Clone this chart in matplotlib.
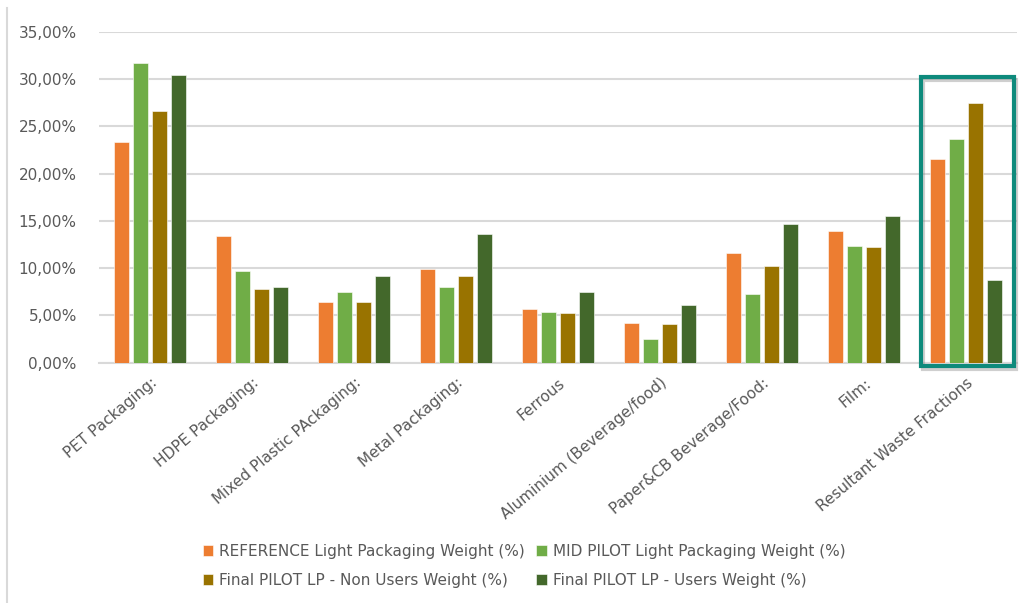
import matplotlib.pyplot as plt
import matplotlib.patheffects as pe
from matplotlib.patches import Rectangle
from matplotlib.lines import Line2D
from matplotlib.ticker import FuncFormatter
import numpy as np

plt.rcParams['font.family'] = ['DejaVu Sans']

categories = ['PET Packaging:', 'HDPE Packaging:', 'Mixed Plastic PAckaging:',
              'Metal Packaging:', 'Ferrous', 'Aluminium (Beverage/food)',
              'Paper&CB Beverage/Food:', 'Film:', 'Resultant Waste Fractions']
series_names = ['REFERENCE Light Packaging Weight (%)',
                'MID PILOT Light Packaging Weight (%)',
                'Final PILOT LP - Non Users Weight (%)',
                'Final PILOT LP - Users Weight (%)']
reference = [23.3, 13.4, 6.45, 9.87, 5.68, 4.17, 11.6, 13.9, 21.57]
mid_pilot = [31.7, 9.7, 7.5, 7.97, 5.4, 2.54, 7.23, 12.34, 23.7]
final_non_users = [26.6, 7.76, 6.4, 9.2, 5.22, 4.06, 10.19, 12.27, 27.5]
final_users = [30.4, 8.0, 9.2, 13.57, 7.5, 6.07, 14.67, 15.5, 8.74]
colors = ['#ED7D31', '#70AD47', '#997300', '#43682B']

fig = plt.figure(figsize=(10.33, 6.03), dpi=100)
ax = fig.add_axes([99 / 1033, 1 - 362.7 / 603, (1017 - 99) / 1033, (362.7 - 31.7) / 603])

x = np.arange(len(categories))
slot = 0.186
width = 0.15
bars = []
for i, (vals, c, name) in enumerate(zip([reference, mid_pilot, final_non_users, final_users],
                                        colors, series_names)):
    b = ax.bar(x + (i - 1.5) * slot, vals, width, color=c, label=name, zorder=3,
               edgecolor='white', linewidth=0.4)
    bars.append(b)

ax.set_xlim(-0.5, len(categories) - 0.5)
ax.set_ylim(0, 35)
ax.set_yticks(np.arange(0, 36, 5))
ax.yaxis.set_major_formatter(FuncFormatter(lambda v, p: f'{v:.2f}%'.replace('.', ',')))
ax.grid(axis='y', color='#D9D9D9', linewidth=1.5, zorder=0)
for s in ['top', 'right', 'left']:
    ax.spines[s].set_visible(False)
ax.spines['bottom'].set_color('#D9D9D9')
ax.spines['bottom'].set_linewidth(1.5)
ax.tick_params(axis='both', length=0, colors='#595959', labelsize=11)
ax.tick_params(axis='y', pad=16)
ax.set_xticks(x)
ax.set_xticklabels(categories, rotation=40, ha='right', rotation_mode='anchor')
ax.tick_params(axis='x', pad=9)

# highlight box
rect = Rectangle((7.556, -0.35), 0.91, 30.53, fill=False, edgecolor='#0E8A7C',
                 linewidth=3, clip_on=False, zorder=5,
                 path_effects=[pe.SimpleLineShadow(offset=(1.5, -2), shadow_color='#888888',
                                                   alpha=0.4), pe.Normal()])
ax.add_patch(rect)

# row-wise legend order
order = [0, 2, 1, 3]
leg = fig.legend([bars[k] for k in order], [series_names[k] for k in order],
                 loc='center', bbox_to_anchor=(524 / 1033, 1 - 566 / 603), ncol=2,
                 frameon=False, fontsize=11, handlelength=0.7, handleheight=0.7,
                 handletextpad=0.4, columnspacing=0.7, labelspacing=0.9)
for t in leg.get_texts():
    t.set_color('#595959')

# chart border on the left
fig.add_artist(Line2D([7 / 1033, 7 / 1033], [0, 1 - 8 / 603], color='#D9D9D9', linewidth=1.5))

fig.savefig('out.png', dpi=100)
